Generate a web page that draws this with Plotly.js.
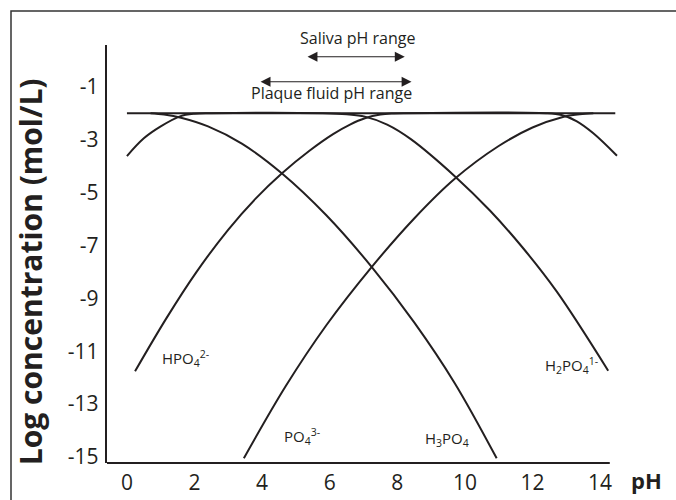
<!DOCTYPE html>
<html>
<head>
<meta charset="utf-8">
<script src="https://cdn.plot.ly/plotly-3.0.1.min.js"></script>
<style>html,body{margin:0;padding:0;background:#fff;}</style>
</head>
<body>
<div id="chart" style="width:676px;height:500px;"></div>
<script>
// ---- data ----
const xTicks = [0, 2, 4, 6, 8, 10, 12, 14];
const xTickText = ["0", "2", "4", "6", "8", "10", "12", "14"];
const yTicks = [-1, -3, -5, -7, -9, -11, -13, -15];
const yTickText = ["-1", "-3", "-5", "-7", "-9", "-11", "-13", "-15"];

const totalPH = [0, 14.45];
const totalLog = [-2.0, -2.0];

const h3po4PH = [0.7, 1.1, 1.6, 2.4, 3.4, 4.58, 5.9, 7.24, 8.5, 9.7, 10.94];
const h3po4Log = [-2.0, -2.05, -2.17, -2.5, -3.15, -4.27, -5.86, -7.81, -9.91, -12.21, -15.05];

const h2po4PH = [0, 0.5, 1.0, 1.57, 2.0, 2.5, 5.8, 6.5, 7.04, 7.7, 8.4, 9.7, 10.74, 11.7, 12.72, 14.24];
const h2po4Log = [-3.62, -2.95, -2.5, -2.12, -2.02, -2.0, -2.0, -2.04, -2.13, -2.43, -2.98, -4.38, -5.68, -7.07, -8.75, -11.74];

const hpo4PH = [0.24, 1.17, 2.06, 3.0, 3.8, 4.58, 5.4, 6.1, 6.6, 7.04, 7.5, 7.9, 8.2, 12.4, 12.86, 13.3, 13.8, 14.5];
const hpo4Log = [-11.76, -9.75, -8.0, -6.4, -5.24, -4.28, -3.42, -2.79, -2.43, -2.19, -2.05, -2.01, -2.0, -2.0, -2.07, -2.3, -2.76, -3.61];

const po4PH = [3.46, 4.7, 5.9, 7.24, 8.5, 9.7, 11.0, 12.0, 12.9, 13.4, 13.8];
const po4Log = [-15.05, -12.32, -10.02, -7.82, -5.98, -4.48, -3.24, -2.54, -2.14, -2.04, -2.0];

const salivaRange = [5.30, 8.22];
const salivaLevel = 0.135;
const plaqueRange = [3.91, 8.42];
const plaqueLevel = -0.81;

// ---- drawing ----
const ink = '#231f20';
const font = 'Open Sans, Noto Sans, sans-serif';
function curve(x, y) {
  return {x: x, y: y, type: 'scatter', mode: 'lines',
          line: {color: ink, width: 2, shape: 'spline', smoothing: 1},
          hoverinfo: 'skip', showlegend: false};
}
const traces = [
  {x: totalPH, y: totalLog, type: 'scatter', mode: 'lines', line: {color: ink, width: 2}, showlegend: false, hoverinfo: 'skip'},
  curve(h3po4PH, h3po4Log),
  curve(h2po4PH, h2po4Log),
  curve(hpo4PH, hpo4Log),
  curve(po4PH, po4Log)
];

const lblFont = {family: font, size: 15, color: ink};
const rangeFont = {family: font, size: 16, color: ink};
function arrow(range, level) {
  return {x: range[1], y: level, ax: range[0], ay: level, xref: 'x', yref: 'y', axref: 'x', ayref: 'y',
          text: '', showarrow: true, arrowside: 'end+start', arrowhead: 2, arrowsize: 1.8,
          arrowwidth: 1.1, arrowcolor: ink, standoff: 0, startstandoff: 0};
}
const annotations = [
  arrow(salivaRange, salivaLevel),
  arrow(plaqueRange, plaqueLevel),
  {x: 6.82, y: 1.016, xref: 'x', yref: 'paper', text: 'Saliva pH range', showarrow: false, font: rangeFont, xanchor: 'center', yanchor: 'middle'},
  {x: 6.06, y: -1.25, xref: 'x', yref: 'y', text: 'Plaque fluid pH range', showarrow: false, font: rangeFont, xanchor: 'center', yanchor: 'middle'},
  {x: 0.99, y: -11.26, xref: 'x', yref: 'y', text: 'HPO<sub>4</sub><sup>2-</sup>', showarrow: false, font: lblFont, xanchor: 'left', yanchor: 'middle'},
  {x: 4.58, y: -14.24, xref: 'x', yref: 'y', text: 'PO<sub>4</sub><sup>3-</sup>', showarrow: false, font: lblFont, xanchor: 'left', yanchor: 'middle'},
  {x: 8.75, y: -14.33, xref: 'x', yref: 'y', text: 'H<sub>3</sub>PO<sub>4</sub>', showarrow: false, font: lblFont, xanchor: 'left', yanchor: 'middle'},
  {x: 12.3, y: -11.56, xref: 'x', yref: 'y', text: 'H<sub>2</sub>PO<sub>4</sub><sup>1-</sup>', showarrow: false, font: lblFont, xanchor: 'left', yanchor: 'middle'},
  {x: 1.053, y: -0.041, xref: 'paper', yref: 'paper', text: '<b>pH</b>', showarrow: false, font: {family: font, size: 22, color: ink}, xanchor: 'center', yanchor: 'middle'},
  {x: -0.148, y: 0.457, xref: 'paper', yref: 'paper', text: '<b>Log concentration (mol/L)</b>', textangle: -90, showarrow: false, font: {family: font, size: 30, color: ink}, xanchor: 'center', yanchor: 'middle'}
];

const shapes = [
  // outer frame (extends past the right/bottom edge like the reference)
  {type: 'rect', xref: 'paper', yref: 'paper', x0: -0.1875, x1: 1.2, y0: -0.2, y1: 1.0813, line: {color: '#333', width: 1.5}, fillcolor: 'rgba(0,0,0,0)'},
  // x axis line
  {type: 'line', xref: 'paper', yref: 'paper', x0: 0, x1: 0.982, y0: 0, y1: 0, line: {color: ink, width: 2.2}}
];

const layout = {
  width: 676, height: 500,
  margin: {l: 107, r: 57, t: 45, b: 37},
  paper_bgcolor: '#fff', plot_bgcolor: '#fff',
  showlegend: false,
  xaxis: {range: [-0.59, 14.56], tickvals: xTicks, ticktext: xTickText, showgrid: false, zeroline: false,
          showline: false, ticks: '', ticklabelstandoff: 5, tickfont: {family: font, size: 21, color: ink}},
  yaxis: {range: [-15.23, 0.58], tickvals: yTicks, ticktext: yTickText, showgrid: false, zeroline: false,
          showline: true, linecolor: ink, linewidth: 2.2, ticks: '', ticklabelstandoff: 2,
          tickfont: {family: font, size: 21, color: ink}},
  annotations: annotations,
  shapes: shapes
};
Plotly.newPlot('chart', traces, layout, {displayModeBar: false, staticPlot: true});
</script>
</body>
</html>
